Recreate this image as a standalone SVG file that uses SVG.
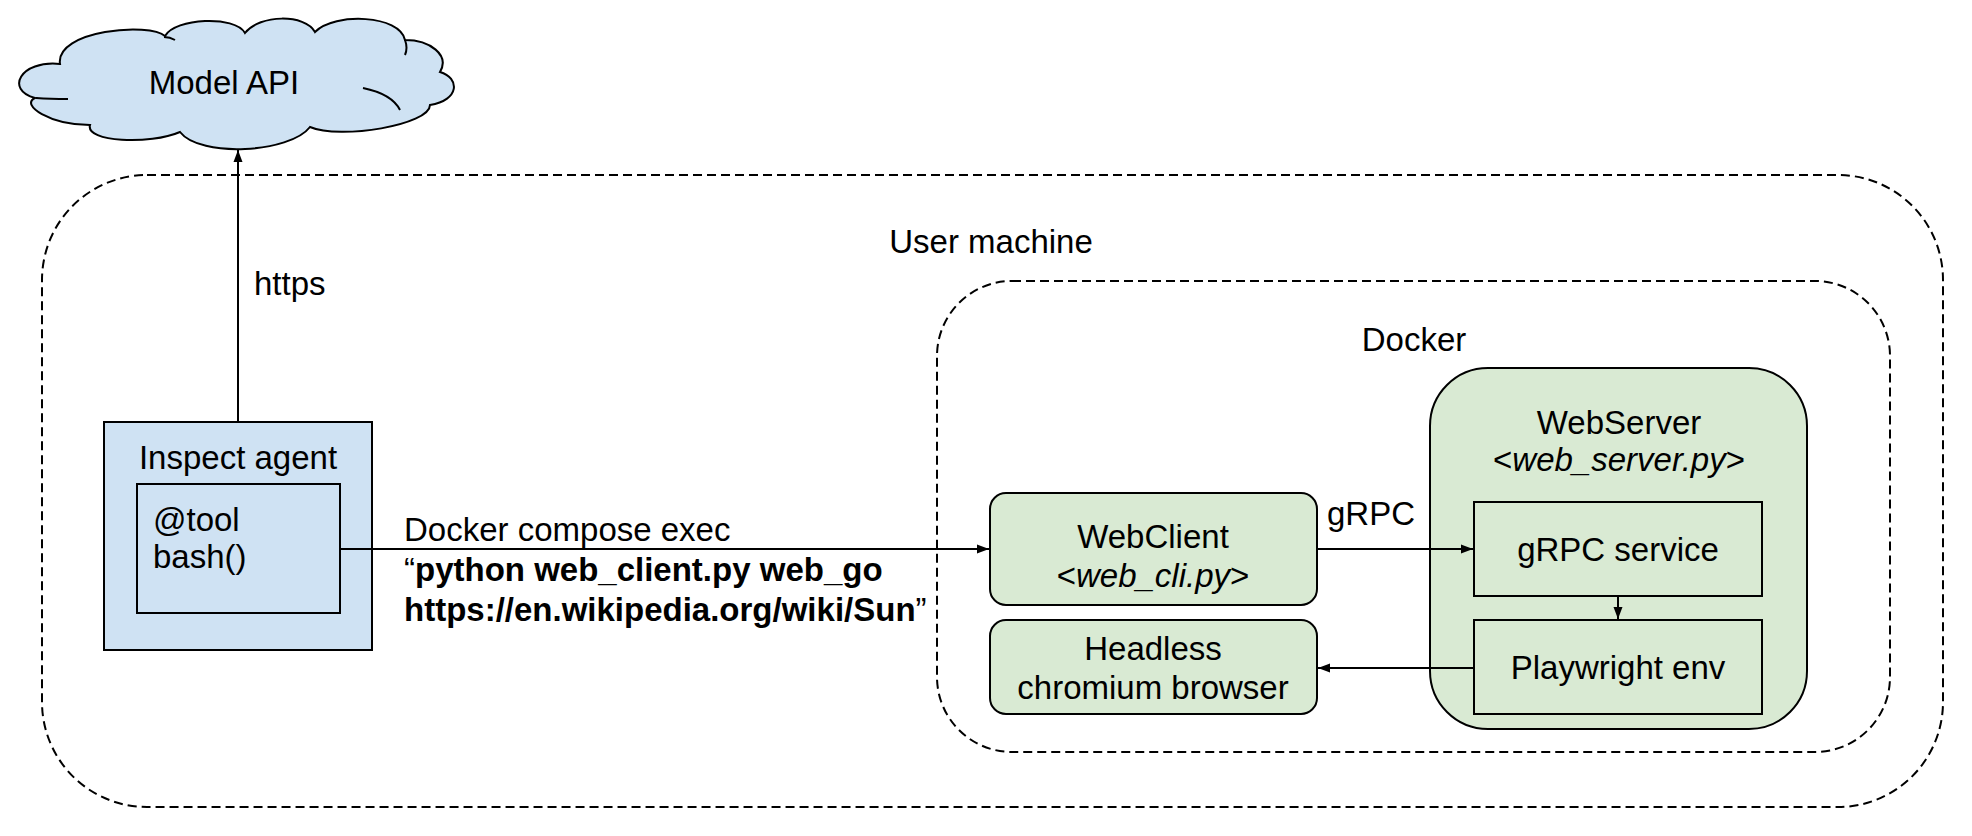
<svg xmlns="http://www.w3.org/2000/svg" width="1972" height="836" viewBox="0 0 1972 836">
<defs>
<style>
text{font-family:"Liberation Sans",Arial,sans-serif;font-size:33px;fill:#000}
.c{text-anchor:middle}
.b{font-weight:bold}
.i{font-style:italic}
.blue{fill:#cfe2f3;stroke:#000;stroke-width:2}
.green{fill:#d9ead3;stroke:#000;stroke-width:2}
.dash{fill:none;stroke:#000;stroke-width:2;stroke-dasharray:9 5}
.ln{fill:none;stroke:#000;stroke-width:2}
</style>
<marker id="ah" viewBox="0 0 12 10" refX="12" refY="5" markerWidth="12" markerHeight="10" markerUnits="userSpaceOnUse" orient="auto">
<path d="M0 0.5 L12 5 L0 9.5 Z" fill="#000"/>
</marker>
</defs>
<rect width="1972" height="836" fill="#fff"/>

<g id="user-machine">
<rect class="dash" x="42" y="175" width="1901" height="632" rx="105" ry="105"/>
<text class="c" x="991" y="253">User machine</text>
</g>

<g id="docker">
<rect class="dash" x="937" y="281" width="953" height="471" rx="75" ry="75"/>
<text class="c" x="1414" y="351">Docker</text>
</g>

<g id="model-api">
<path class="blue" d="M60 64 C55 30 150 22 165 36 C175 18 235 15 245 33 C260 14 305 14 315 32 C335 12 400 15 405 40 C430 40 450 55 440 72 C460 78 460 100 430 105 C430 125 340 140 310 127 C290 153 200 158 180 132 C150 145 85 142 90 125 C50 125 20 105 35 98 C5 90 20 60 60 64 Z"/>
<path class="ln" d="M363 88 Q392 94 400 110 M68 99 Q50 99 36 98 M175 40 Q170 37 164 37 M405 40 Q408 48 405 55"/>
<text class="c" x="224" y="94">Model API</text>
</g>

<g id="inspect-agent">
<rect class="blue" x="104" y="422" width="268" height="228"/>
<text class="c" x="238" y="469">Inspect agent</text>
<rect class="blue" x="137" y="484" width="203" height="129"/>
<text x="153" y="531">@tool</text>
<text x="153" y="568">bash()</text>
</g>

<g id="webclient">
<rect class="green" x="990" y="493" width="327" height="112" rx="16" ry="16"/>
<text class="c" x="1153" y="548">WebClient</text>
<text class="c" x="1153" y="587">&lt;<tspan class="i">web_cli.py</tspan>&gt;</text>
</g>

<g id="headless">
<rect class="green" x="990" y="620" width="327" height="94" rx="16" ry="16"/>
<text class="c" x="1153" y="660">Headless</text>
<text class="c" x="1153" y="699">chromium browser</text>
</g>

<g id="webserver">
<rect class="green" x="1430" y="368" width="377" height="361" rx="58" ry="58"/>
<text class="c" x="1619" y="434">WebServer</text>
<text class="c" x="1619" y="471">&lt;<tspan class="i">web_server.py</tspan>&gt;</text>
</g>

<g id="grpc-service">
<rect class="green" x="1474" y="502" width="288" height="94"/>
<text class="c" x="1618" y="561">gRPC service</text>
</g>

<g id="playwright-env">
<rect class="green" x="1474" y="620" width="288" height="94"/>
<text class="c" x="1618" y="679">Playwright env</text>
</g>

<g id="connectors">
<line class="ln" x1="238" y1="422" x2="238" y2="150" marker-end="url(#ah)"/>
<text x="254" y="295">https</text>
<line class="ln" x1="340" y1="549" x2="989" y2="549" marker-end="url(#ah)"/>
<text x="404" y="541">Docker compose exec</text>
<text x="404" y="581">“<tspan class="b">python web_client.py web_go</tspan></text>
<text x="404" y="621"><tspan class="b">https://en.wikipedia.org/wiki/Sun</tspan>”</text>
<line class="ln" x1="1317" y1="549" x2="1473" y2="549" marker-end="url(#ah)"/>
<text x="1327" y="525">gRPC</text>
<line class="ln" x1="1618" y1="596" x2="1618" y2="619" marker-end="url(#ah)"/>
<line class="ln" x1="1474" y1="668" x2="1318" y2="668" marker-end="url(#ah)"/>
</g>
</svg>
